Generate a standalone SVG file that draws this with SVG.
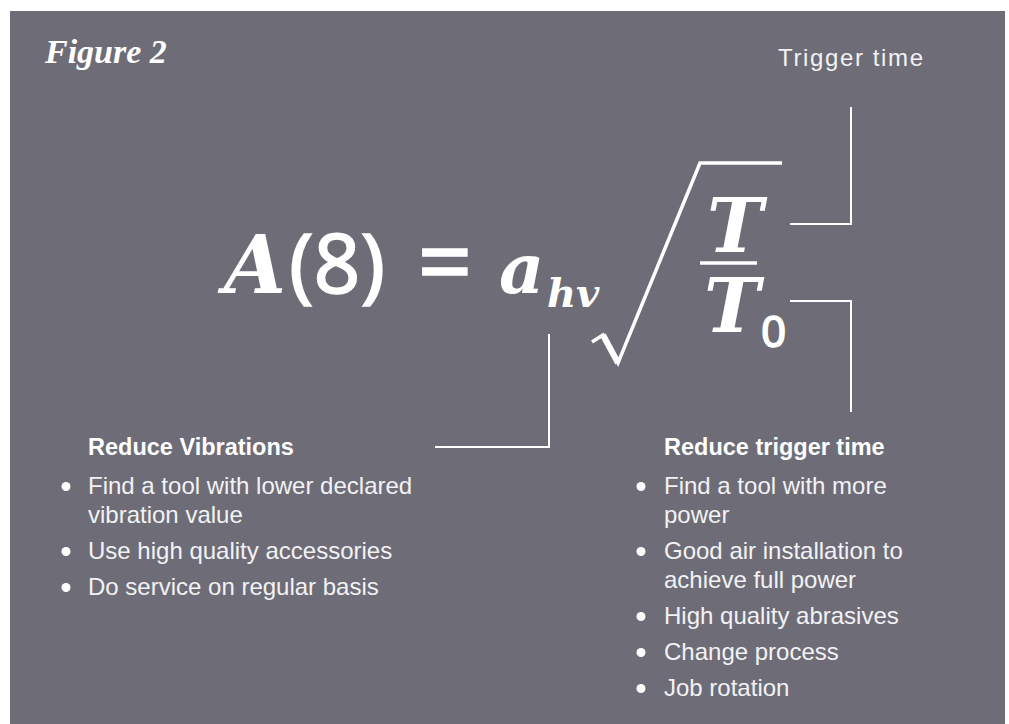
<svg xmlns="http://www.w3.org/2000/svg" width="1009" height="724" viewBox="0 0 1009 724">
<style>
.bg{fill:#6e6d77}
.conn{fill:none;stroke:#ffffff;stroke-width:2}
.title{font-family:"Liberation Serif",serif;font-style:italic;font-weight:bold;font-size:34px;fill:#ffffff}
.lbl{font-family:"Liberation Sans",Arial,sans-serif;font-size:24px;fill:#f2f2f4}
.head{font-family:"Liberation Sans",Arial,sans-serif;font-weight:bold;font-size:23.5px;fill:#ffffff}
.item{font-family:"Liberation Sans",Arial,sans-serif;font-size:24px;fill:#f2f2f4}
.dot{fill:#ffffff}
.mi{font-family:"DejaVu Serif",serif;font-style:italic;font-weight:bold;fill:#ffffff}
.mn{font-family:"Noto Sans","DejaVu Sans",sans-serif;fill:#ffffff;stroke:#ffffff;stroke-width:1.5}
.rad{fill:none;stroke:#ffffff;stroke-width:3.5;stroke-linejoin:miter}
</style>
<rect class="bg" x="10" y="11" width="995" height="713"/>

<g id="title">
<text class="title" x="45" y="63">Figure 2</text>
</g>

<g id="trigger-time-label">
<text class="lbl" x="778" y="66" textLength="145" lengthAdjust="spacing">Trigger time</text>
</g>

<g id="formula">
<text class="mi" x="224" y="293" font-size="80">A</text>
<text class="mn" x="289" y="293" font-size="82">(8)</text>
<text class="mn" x="445" y="296" font-size="96" text-anchor="middle">=</text>
<text class="mi" x="499" y="293" font-size="70">a</text>
<text class="mi" x="547" y="307" font-size="40">hv</text>
<polyline class="rad" points="592,342 603,335 618,363 700,163 782,163"/>
<line x1="603" y1="335" x2="618" y2="363" stroke="#ffffff" stroke-width="6"/>
<text class="mi" x="707" y="252" font-size="75">T</text>
<line x1="700" y1="263" x2="757" y2="263" stroke="#ffffff" stroke-width="3.5"/>
<text class="mi" x="704" y="332" font-size="75">T</text>
<text class="mn" x="761" y="347" font-size="44">0</text>
</g>

<g id="connectors">
<polyline class="conn" points="851,107 851,224 790,224"/>
<polyline class="conn" points="790,301 851,301 851,412"/>
<polyline class="conn" points="549,334 549,447 435,447"/>
</g>

<g id="reduce-vibrations">
<text class="head" x="88" y="455">Reduce Vibrations</text>
<circle class="dot" cx="66" cy="486.5" r="4.5"/>
<text class="item" x="88" y="494">Find a tool with lower declared</text>
<text class="item" x="88" y="523">vibration value</text>
<circle class="dot" cx="66" cy="551.5" r="4.5"/>
<text class="item" x="88" y="559">Use high quality accessories</text>
<circle class="dot" cx="66" cy="587.5" r="4.5"/>
<text class="item" x="88" y="595">Do service on regular basis</text>
</g>

<g id="reduce-trigger-time">
<text class="head" x="664" y="455">Reduce trigger time</text>
<circle class="dot" cx="641" cy="486.5" r="4.5"/>
<text class="item" x="664" y="494">Find a tool with more</text>
<text class="item" x="664" y="523">power</text>
<circle class="dot" cx="641" cy="551.5" r="4.5"/>
<text class="item" x="664" y="559">Good air installation to</text>
<text class="item" x="664" y="588">achieve full power</text>
<circle class="dot" cx="641" cy="616.5" r="4.5"/>
<text class="item" x="664" y="624">High quality abrasives</text>
<circle class="dot" cx="641" cy="652.5" r="4.5"/>
<text class="item" x="664" y="660">Change process</text>
<circle class="dot" cx="641" cy="688.5" r="4.5"/>
<text class="item" x="664" y="696">Job rotation</text>
</g>
</svg>
